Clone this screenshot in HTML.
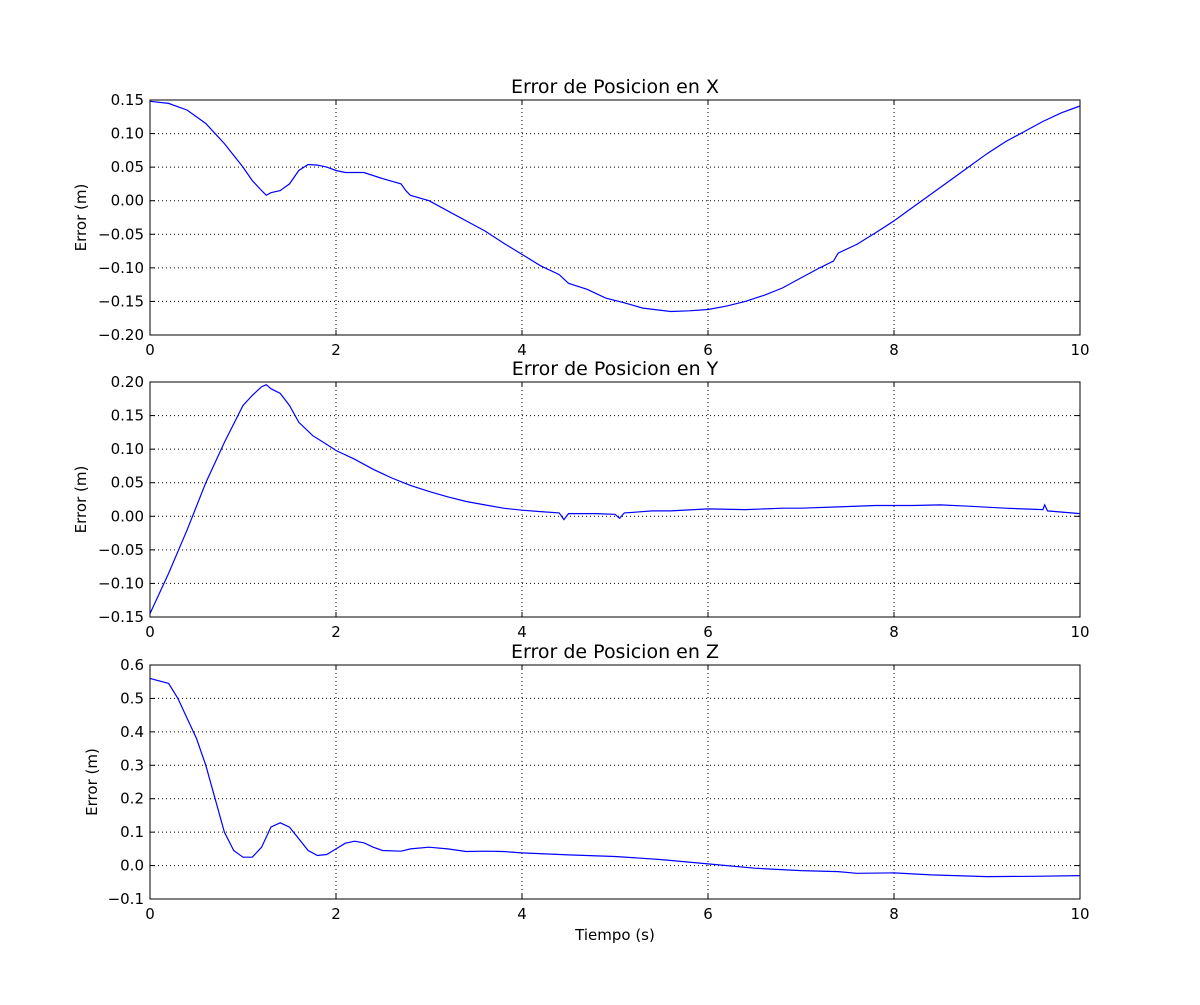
<!DOCTYPE html>
<html><head><meta charset="utf-8"><style>
html,body{margin:0;padding:0;background:#fff;}
svg text{font-family:"DejaVu Sans","Liberation Sans",sans-serif;fill:#000;}
</style></head><body>
<svg id="fig" width="1200" height="1000" xmlns="http://www.w3.org/2000/svg"></svg>
<script>
const xTicks=[0,2,4,6,8,10];
const xTickLabels=["0","2","4","6","8","10"];
const titles=["Error de Posicion en X","Error de Posicion en Y","Error de Posicion en Z"];
const yTicksX=[0.15,0.10,0.05,0.00,-0.05,-0.10,-0.15,-0.20];
const yTickLabelsX=["0.15","0.10","0.05","0.00","\u22120.05","\u22120.10","\u22120.15","\u22120.20"];
const yTicksY=[0.20,0.15,0.10,0.05,0.00,-0.05,-0.10,-0.15];
const yTickLabelsY=["0.20","0.15","0.10","0.05","0.00","\u22120.05","\u22120.10","\u22120.15"];
const yTicksZ=[0.6,0.5,0.4,0.3,0.2,0.1,0.0,-0.1];
const yTickLabelsZ=["0.6","0.5","0.4","0.3","0.2","0.1","0.0","\u22120.1"];
const tX=[0,0.2,0.4,0.6,0.8,1.0,1.1,1.2,1.25,1.3,1.4,1.5,1.6,1.7,1.8,1.9,2.0,2.1,2.3,2.5,2.7,2.75,2.8,3.0,3.2,3.4,3.6,3.8,4.0,4.2,4.4,4.5,4.7,4.9,5.1,5.3,5.6,5.8,6.0,6.2,6.4,6.6,6.8,7.0,7.2,7.35,7.4,7.6,7.8,8.0,8.2,8.4,8.6,8.8,9.0,9.2,9.4,9.6,9.8,10];
const vX=[0.148,0.145,0.135,0.115,0.085,0.05,0.03,0.015,0.008,0.012,0.015,0.025,0.045,0.054,0.053,0.05,0.045,0.042,0.042,0.033,0.025,0.015,0.008,0.0,-0.015,-0.03,-0.045,-0.063,-0.08,-0.097,-0.11,-0.123,-0.132,-0.145,-0.152,-0.16,-0.165,-0.164,-0.162,-0.157,-0.15,-0.141,-0.13,-0.115,-0.1,-0.09,-0.078,-0.065,-0.048,-0.03,-0.01,0.01,0.03,0.05,0.07,0.088,0.103,0.118,0.131,0.141];
const tY=[0,0.2,0.4,0.6,0.8,1.0,1.1,1.2,1.25,1.3,1.4,1.5,1.6,1.75,1.9,2.0,2.2,2.4,2.6,2.8,3.0,3.2,3.4,3.6,3.8,4.0,4.2,4.4,4.45,4.5,4.8,5.0,5.05,5.1,5.2,5.4,5.6,6.0,6.4,6.8,7.0,7.4,7.8,8.2,8.5,8.8,9.2,9.6,9.62,9.65,10];
const vY=[-0.145,-0.085,-0.02,0.05,0.11,0.165,0.18,0.193,0.196,0.19,0.183,0.165,0.14,0.12,0.107,0.098,0.085,0.07,0.057,0.046,0.037,0.029,0.022,0.017,0.012,0.009,0.007,0.005,-0.005,0.004,0.004,0.003,-0.003,0.005,0.006,0.008,0.008,0.011,0.010,0.012,0.012,0.014,0.016,0.016,0.017,0.015,0.012,0.01,0.017,0.008,0.004];
const tZ=[0,0.2,0.3,0.4,0.5,0.6,0.7,0.8,0.9,1.0,1.1,1.2,1.3,1.4,1.5,1.6,1.7,1.8,1.9,2.0,2.1,2.2,2.3,2.4,2.5,2.7,2.8,3.0,3.2,3.4,3.6,3.8,4.0,4.5,5.0,5.5,6.0,6.5,7.0,7.4,7.6,8.0,8.4,9.0,9.5,10];
const vZ=[0.56,0.545,0.5,0.44,0.38,0.3,0.2,0.1,0.045,0.025,0.025,0.055,0.115,0.128,0.115,0.08,0.045,0.03,0.033,0.05,0.067,0.073,0.068,0.055,0.045,0.043,0.05,0.055,0.05,0.042,0.043,0.042,0.038,0.032,0.027,0.018,0.005,-0.008,-0.015,-0.018,-0.023,-0.022,-0.028,-0.033,-0.032,-0.03];

const NS="http://www.w3.org/2000/svg";
const svg=document.getElementById('fig');
function mk(tag,attrs,parent){const e=document.createElementNS(NS,tag);for(const k in attrs)e.setAttribute(k,attrs[k]);(parent||svg).appendChild(e);return e;}
const L=150,R=1080;
const panels=[
 {top:100,bot:335,ymax:0.15,ymin:-0.20,yt:yTicksX,yl:yTickLabelsX,t:tX,v:vX,name:'x'},
 {top:382,bot:617,ymax:0.20,ymin:-0.15,yt:yTicksY,yl:yTickLabelsY,t:tY,v:vY,name:'y'},
 {top:665,bot:899,ymax:0.6,ymin:-0.1,yt:yTicksZ,yl:yTickLabelsZ,t:tZ,v:vZ,name:'z'}];
const xs=t=>L+(t-0)/(10-0)*(R-L);
panels.forEach((p,i)=>{
 const ys=v=>p.top+(p.ymax-v)/(p.ymax-p.ymin)*(p.bot-p.top);
 const g=mk('g',{});
 
 
 xTicks.forEach((t,j)=>{
  const x=xs(t);
  if(j>0&&j<xTicks.length-1){const gl=mk('line',{x1:x,x2:x,y1:p.top,y2:p.bot,stroke:'#000','stroke-width':1,'stroke-dasharray':'1,3'},g);}
  mk('line',{x1:x,x2:x,y1:p.bot,y2:p.bot-5,stroke:'#000'},g);
  mk('line',{x1:x,x2:x,y1:p.top,y2:p.top+5,stroke:'#000'},g);
  const tx=mk('text',{x:x,y:p.bot+20,'text-anchor':'middle','font-size':15},g);tx.textContent=xTickLabels[j];
  
 });
 p.yt.forEach((v,j)=>{
  const y=ys(v);
  if(j>0&&j<p.yt.length-1){const gl=mk('line',{x1:L,x2:R,y1:y,y2:y,stroke:'#000','stroke-width':1,'stroke-dasharray':'1,3'},g);}
  mk('line',{x1:L,x2:L+5,y1:y,y2:y,stroke:'#000'},g);
  mk('line',{x1:R,x2:R-5,y1:y,y2:y,stroke:'#000'},g);
  const tx=mk('text',{x:L-6,y:y+5,'text-anchor':'end','font-size':15},g);tx.textContent=p.yl[j];
  
 });
 const d=p.t.map((t,k)=>(k?'L':'M')+xs(t).toFixed(1)+' '+ys(p.v[k]).toFixed(1)).join(' ');
 const ln=mk('path',{d:d,fill:'none',stroke:'#0000ff','stroke-width':1.2},g);
 
 const fr=mk('rect',{x:L,y:p.top,width:R-L,height:p.bot-p.top,fill:'none',stroke:'#000','stroke-width':1},g);
 
 const ti=mk('text',{x:(L+R)/2,y:p.top-7,'text-anchor':'middle','font-size':19},g);ti.textContent=titles[i];
 
 const yx=(i==2)?97:86;
 const yl=mk('text',{x:yx,y:(p.top+p.bot)/2,'text-anchor':'middle','font-size':15,transform:'rotate(-90 '+yx+' '+(p.top+p.bot)/2+')'},g);yl.textContent='Error (m)';
 
});
const xl=mk('text',{x:615,y:940,'text-anchor':'middle','font-size':15});xl.textContent='Tiempo (s)';


</script>
</body></html>
